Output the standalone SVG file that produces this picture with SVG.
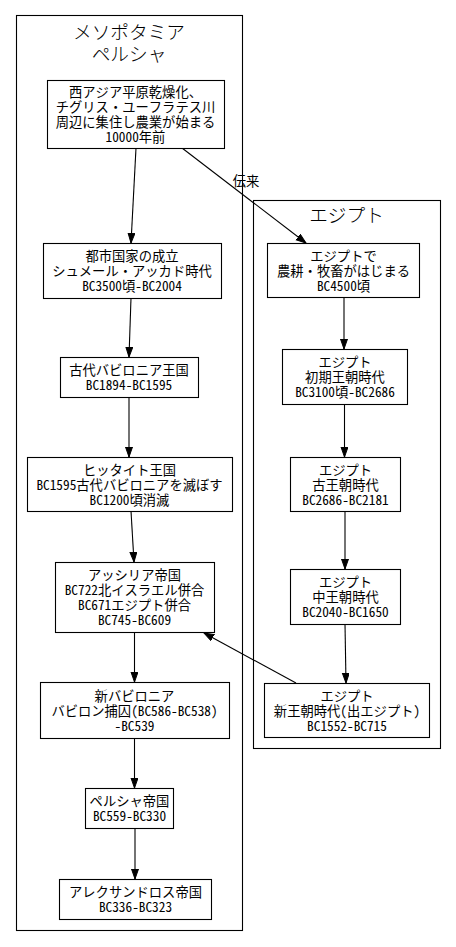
<svg xmlns="http://www.w3.org/2000/svg" width="456" height="947" viewBox="0 0 456 947">
<style>
.bg{fill:#ffffff}
.cl{fill:none;stroke:#000;stroke-width:1.1}
.nd{fill:#fff;stroke:#000;stroke-width:1.1}
.t{font-family:"Noto Sans Mono CJK JP","Noto Sans CJK JP",sans-serif;font-size:13.3px;text-anchor:middle;fill:#000}
.tt{font-family:"Noto Sans CJK JP",sans-serif;font-size:18.67px;font-weight:300;text-anchor:middle;fill:#000}
.e{fill:none;stroke:#000;stroke-width:1.1;marker-end:url(#ah)}
</style>
<defs>
<marker id="ah" markerUnits="userSpaceOnUse" markerWidth="11" markerHeight="8" refX="10" refY="3.5" orient="auto" viewBox="0 0 11 8">
<path d="M0,0 L10,3.5 L0,7 z" fill="#000" stroke="#000" stroke-width="1"/>
</marker>
</defs>
<rect class="bg" x="0" y="0" width="456" height="947"/>
<g id="cluster_meso">
<rect class="cl" x="16.5" y="15.5" width="226" height="915"/>
<text class="tt" x="129" y="38.5">メソポタミア</text>
<text class="tt" x="129" y="60.5">ペルシャ</text>
</g>
<g id="cluster_egypt">
<rect class="cl" x="253.5" y="200.5" width="187" height="548"/>
<text class="tt" x="346.5" y="222">エジプト</text>
</g>
<g id="edges">
<path class="e" d="M136,148 L131,243"/>
<path class="e" d="M182,148 L306,243"/>
<text class="t" x="246" y="186">伝来</text>
<path class="e" d="M131,298 L129,357"/>
<path class="e" d="M129,397 L129,457"/>
<path class="e" d="M131,511 L134,562"/>
<path class="e" d="M134.5,632 L134.5,682"/>
<path class="e" d="M134.5,738 L134.5,788"/>
<path class="e" d="M135,828 L135,879"/>
<path class="e" d="M344,297 L344,349"/>
<path class="e" d="M344.5,404 L344.5,457"/>
<path class="e" d="M345,511 L345,569"/>
<path class="e" d="M345,624 L346,683"/>
<path class="e" d="M296,683 L204,633"/>
</g>
<g id="n1">
<rect class="nd" x="47.5" y="80.5" width="177" height="68"/>
<text class="t" x="135.5" y="97">西アジア平原乾燥化、</text>
<text class="t" x="135.5" y="112">チグリス・ユーフラテス川</text>
<text class="t" x="135.5" y="127">周辺に集住し農業が始まる</text>
<text class="t" x="135.5" y="142">10000年前</text>
</g>
<g id="n2">
<rect class="nd" x="43.5" y="243.5" width="178" height="55"/>
<text class="t" x="132" y="261">都市国家の成立</text>
<text class="t" x="132" y="276">シュメール・アッカド時代</text>
<text class="t" x="132" y="291">BC3500頃-BC2004</text>
</g>
<g id="n3">
<rect class="nd" x="60.5" y="357.5" width="138" height="40"/>
<text class="t" x="129" y="375">古代バビロニア王国</text>
<text class="t" x="129" y="390">BC1894-BC1595</text>
</g>
<g id="n4">
<rect class="nd" x="27.5" y="457.5" width="205" height="54"/>
<text class="t" x="129.5" y="474.5">ヒッタイト王国</text>
<text class="t" x="129.5" y="489.5">BC1595古代バビロニアを滅ぼす</text>
<text class="t" x="129.5" y="504.5">BC1200頃消滅</text>
</g>
<g id="n5">
<rect class="nd" x="55.5" y="562.5" width="159" height="70"/>
<text class="t" x="134.5" y="580">アッシリア帝国</text>
<text class="t" x="134.5" y="595">BC722北イスラエル併合</text>
<text class="t" x="134.5" y="610">BC671エジプト併合</text>
<text class="t" x="134.5" y="625">BC745-BC609</text>
</g>
<g id="n6">
<rect class="nd" x="40.5" y="682.5" width="189" height="56"/>
<text class="t" x="134.5" y="700.5">新バビロニア</text>
<text class="t" x="134.5" y="715.5">バビロン捕囚(BC586-BC538)</text>
<text class="t" x="134.5" y="730.5">-BC539</text>
</g>
<g id="n7">
<rect class="nd" x="85.5" y="788.5" width="88" height="40"/>
<text class="t" x="129.5" y="806">ペルシャ帝国</text>
<text class="t" x="129.5" y="821">BC559-BC330</text>
</g>
<g id="n8">
<rect class="nd" x="59.5" y="879.5" width="152" height="40"/>
<text class="t" x="135.5" y="897">アレクサンドロス帝国</text>
<text class="t" x="135.5" y="912">BC336-BC323</text>
</g>
<g id="e1">
<rect class="nd" x="267.5" y="243.5" width="152" height="54"/>
<text class="t" x="343.5" y="260.5">エジプトで</text>
<text class="t" x="343.5" y="275.5">農耕・牧畜がはじまる</text>
<text class="t" x="343.5" y="290.5">BC4500頃</text>
</g>
<g id="e2">
<rect class="nd" x="282.5" y="349.5" width="125" height="55"/>
<text class="t" x="345" y="367">エジプト</text>
<text class="t" x="345" y="382">初期王朝時代</text>
<text class="t" x="345" y="397">BC3100頃-BC2686</text>
</g>
<g id="e3">
<rect class="nd" x="290.5" y="457.5" width="110" height="54"/>
<text class="t" x="345.5" y="474.5">エジプト</text>
<text class="t" x="345.5" y="489.5">古王朝時代</text>
<text class="t" x="345.5" y="504.5">BC2686-BC2181</text>
</g>
<g id="e4">
<rect class="nd" x="290.5" y="569.5" width="110" height="55"/>
<text class="t" x="345.5" y="587">エジプト</text>
<text class="t" x="345.5" y="602">中王朝時代</text>
<text class="t" x="345.5" y="617">BC2040-BC1650</text>
</g>
<g id="e5">
<rect class="nd" x="264.5" y="683.5" width="165" height="54"/>
<text class="t" x="347" y="700.5">エジプト</text>
<text class="t" x="347" y="715.5">新王朝時代(出エジプト)</text>
<text class="t" x="347" y="730.5">BC1552-BC715</text>
</g>
</svg>
